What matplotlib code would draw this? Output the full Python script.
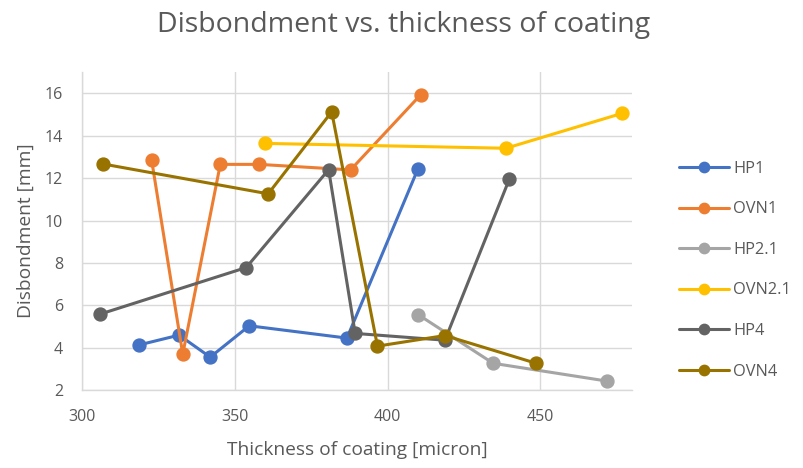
import matplotlib
matplotlib.use("Agg")
import matplotlib.pyplot as plt

plt.rcParams['font.family'] = ['Open Sans', 'DejaVu Sans']

hp1_x = [318.7, 331.7, 341.9, 354.7, 386.7, 410.0]
hp1_y = [4.13, 4.59, 3.55, 5.03, 4.45, 12.45]
ovn1_x = [322.7, 332.9, 345.2, 357.9, 387.9, 410.9]
ovn1_y = [12.86, 3.69, 12.65, 12.65, 12.39, 15.94]
hp21_x = [410.0, 434.6, 471.9]
hp21_y = [5.56, 3.26, 2.42]
ovn21_x = [359.8, 438.8, 476.9]
ovn21_y = [13.64, 13.41, 15.06]
hp4_x = [305.8, 353.7, 380.7, 389.4, 418.8, 439.9]
hp4_y = [5.58, 7.78, 12.40, 4.67, 4.35, 11.95]
ovn4_x = [306.7, 360.9, 381.7, 396.7, 418.8, 448.7]
ovn4_y = [12.67, 11.26, 15.13, 4.07, 4.57, 3.26]

series = [
    ("HP1", hp1_x, hp1_y, "#4472C4"),
    ("OVN1", ovn1_x, ovn1_y, "#ED7D31"),
    ("HP2.1", hp21_x, hp21_y, "#A5A5A5"),
    ("OVN2.1", ovn21_x, ovn21_y, "#FFC000"),
    ("HP4", hp4_x, hp4_y, "#636363"),
    ("OVN4", ovn4_x, ovn4_y, "#997300"),
]

x_ticks = [300, 350, 400, 450]
y_ticks = [2, 4, 6, 8, 10, 12, 14, 16]

fig = plt.figure(figsize=(8.04, 4.68), dpi=100)
ax = fig.add_axes([0.1024, 0.1667, 0.6833, 0.679])

for name, xs, ys, c in series:
    ax.plot(xs, ys, color=c, lw=2.2, marker='o', markersize=9.3, label=name,
            solid_capstyle='round', zorder=3)

ax.set_xlim(300, 480)
ax.set_ylim(2, 17)
ax.set_xticks(x_ticks)
ax.set_yticks(y_ticks)
ax.grid(True, color='#D9D9D9', lw=1.0, zorder=0)
ax.set_axisbelow(True)
for s in ['top', 'right']:
    ax.spines[s].set_visible(False)
for s in ['left', 'bottom']:
    ax.spines[s].set_color('#D9D9D9')
    ax.spines[s].set_linewidth(1.0)
ax.tick_params(length=0, colors='#595959', labelsize=11.5, pad=14)

ax.set_xlabel("Thickness of coating [micron]", fontsize=13.8, color='#595959', labelpad=11)
ax.set_ylabel("Disbondment [mm]", fontsize=13.8, color='#595959', labelpad=7)
fig.text(0.502, 0.947, "Disbondment vs. thickness of coating", ha='center', va='center',
         fontsize=20.5, color='#595959')

leg = ax.legend(loc='center left', bbox_to_anchor=(1.06, 0.377), frameon=False,
                fontsize=11.8, labelspacing=1.5, handlelength=3.0, handletextpad=0.3,
                labelcolor='#595959', markerscale=0.8)

fig.savefig("out.png", dpi=100)
